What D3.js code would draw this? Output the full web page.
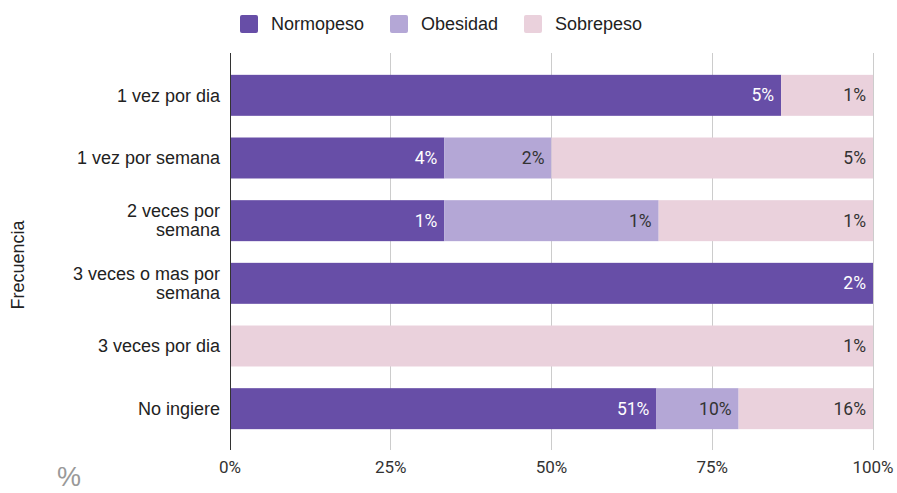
<!DOCTYPE html>
<html><head><meta charset="utf-8">
<script src="https://cdn.jsdelivr.net/npm/d3@7"></script>
<style>body{margin:0;background:#fff}svg{display:block}</style>
</head><body>
<svg id="c" width="897" height="493"></svg>
<script>
const categories = [["1 vez por dia"],["1 vez por semana"],["2 veces por","semana"],["3 veces o mas por","semana"],["3 veces por dia"],["No ingiere"]];
const seriesNames = ["Normopeso","Obesidad","Sobrepeso"];
const normopeso = [5.4, 3.6, 0.9, 1.8, 0, 51.4];
const obesidad  = [0,   1.8, 0.9, 0,   0, 9.9];
const sobrepeso = [0.9, 5.4, 0.9, 0,   0.9, 16.2];
const xTicks = [0, 0.25, 0.5, 0.75, 1];
const colors = ["#674ea7","#b4a7d6","#ead1dc"];
const textColors = ["#ffffff","#333333","#333333"];

const svg = d3.select("#c");
const x = d3.scaleLinear().domain([0,1]).range([230,873]);
const y = d3.scaleBand().domain(categories.map((d,i)=>i)).range([64,440]).paddingInner(0.346).paddingOuter(0.173);

// gridlines
svg.append("g").selectAll("line").data(xTicks.slice(1)).join("line")
  .attr("x1",d=>x(d)).attr("x2",d=>x(d)).attr("y1",53).attr("y2",450)
  .attr("stroke","#cccccc").attr("stroke-width",1).attr("shape-rendering","crispEdges");

const rows = categories.map((c,i)=>{
  const vals=[normopeso[i],obesidad[i],sobrepeso[i]];
  const tot=d3.sum(vals); let acc=0;
  return vals.map((v,k)=>{const s={i,k,v,x0:acc/tot,x1:(acc+v)/tot}; acc+=v; return s;});
}).flat().filter(d=>d.v>0);

svg.append("g").selectAll("rect").data(rows).join("rect")
  .attr("x",d=>x(d.x0)).attr("width",d=>x(d.x1)-x(d.x0))
  .attr("y",d=>y(d.i)).attr("height",y.bandwidth())
  .attr("fill",d=>colors[d.k]);

svg.append("g").selectAll("text").data(rows).join("text")
  .attr("x",d=>x(d.x1)-7).attr("y",d=>y(d.i)+y.bandwidth()/2)
  .attr("dy","0.35em").attr("text-anchor","end")
  .attr("font-family","Roboto, Arial, sans-serif").attr("font-size",17.5)
  .attr("fill",d=>textColors[d.k])
  .text(d=>d3.format(".0f")(d.v)+"%");

// y axis line
svg.append("line").attr("x1",230).attr("x2",230).attr("y1",53).attr("y2",450)
  .attr("stroke","#333").attr("stroke-width",1).attr("shape-rendering","crispEdges");

// category labels
const cl = svg.append("g").selectAll("text").data(categories).join("text")
  .attr("text-anchor","end").attr("font-family","Arial, 'Liberation Sans', sans-serif")
  .attr("font-size",18).attr("fill","#222");
cl.each(function(lines,i){
  const t=d3.select(this); const cy=y(i)+y.bandwidth()/2; const lh=19;
  lines.forEach((ln,j)=>{
    t.append("tspan").attr("x",220).attr("y",cy+(j-(lines.length-1)/2)*lh).attr("dy","0.35em").text(ln);
  });
});

// x axis tick labels
svg.append("g").selectAll("text").data(xTicks).join("text")
  .attr("x",d=>x(d)).attr("y",467).attr("dy","0.35em").attr("text-anchor","middle")
  .attr("font-family","Roboto, Arial, sans-serif").attr("font-size",17).attr("fill","#333")
  .text(d=>d3.format(".0%")(d));

// axis titles
svg.append("text").attr("transform","translate(24,265) rotate(-90)").attr("text-anchor","middle")
  .attr("font-family","Arial, 'Liberation Sans', sans-serif").attr("font-size",18).attr("fill","#222").text("Frecuencia");
svg.append("text").attr("x",69).attr("y",486).attr("text-anchor","middle")
  .attr("font-family","Arial, 'Liberation Sans', sans-serif").attr("font-size",27).attr("fill","#999").text("%");

// legend
const legX=[240,390,524];
const lg=svg.append("g").selectAll("g").data(seriesNames).join("g")
  .attr("transform",(d,i)=>`translate(${legX[i]},15)`);
lg.append("rect").attr("width",18).attr("height",18).attr("rx",2).attr("fill",(d,i)=>colors[i]);
lg.append("text").attr("x",31).attr("y",9).attr("dy","0.35em")
  .attr("font-family","Arial, 'Liberation Sans', sans-serif").attr("font-size",18).attr("fill","#222").text(d=>d);
</script>
</body></html>
